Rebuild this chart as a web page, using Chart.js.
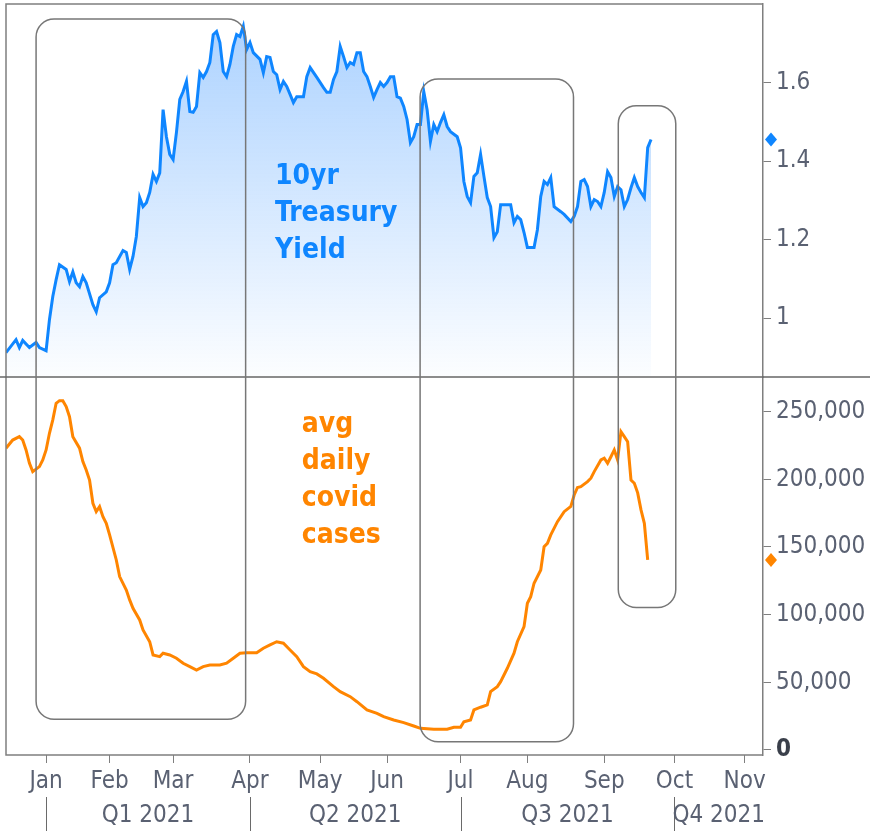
<!DOCTYPE html>
<html>
<head>
    <title>10yr Treasury Yield vs avg daily covid cases</title>
    <style>
        body {
            margin: 0;
            background: #ffffff;
        }
        canvas {
            display: block;
        }
    </style>
</head>
<body>
    <canvas id="chart" width="870" height="831"></canvas>
    <script src="https://cdn.jsdelivr.net/npm/chart.js"></script>
    <script>
        // x values are trading days counted from Jan 4, 2021 (= 0)
        const yieldDays = [-12, -9, -8, -7, -5, -3, -2, 0, 1, 2, 3, 4, 6, 7, 8, 9, 10, 11, 12, 14, 15, 16, 18, 19, 20, 21, 23, 24, 25, 26,
            27, 28, 29, 30, 31, 32, 33, 34, 35, 36, 37, 38, 39, 40, 41, 42, 43, 44, 45, 46, 47, 48, 49, 50, 51, 52, 53, 54, 55, 56,
            57, 58, 59, 60, 61, 62, 64, 65, 66, 67, 68, 69, 70, 71, 72, 73, 74, 75, 77, 78, 79, 81, 83, 84, 85, 86, 87, 88, 89, 90,
            91, 92, 93, 94, 95, 96, 97, 98, 99, 100, 101, 102, 103, 104, 105, 106, 107, 108, 109, 110, 111, 112, 113, 114, 115, 116, 117, 118, 119, 120,
            121, 123, 124, 125, 126, 127, 128, 129, 130, 131, 132, 133, 134, 135, 136, 138, 139, 140, 141, 142, 143, 144, 146, 147, 148, 149, 150, 151, 152, 154,
            155, 157, 158, 159, 160, 161, 162, 163, 164, 165, 166, 167, 168, 169, 170, 171, 172, 173, 174, 175, 176, 177, 178, 179, 180, 181];
        const yieldVals = [0.912, 0.945, 0.925, 0.943, 0.925, 0.938, 0.925, 0.917, 0.996, 1.055, 1.098, 1.136, 1.124, 1.093, 1.118, 1.09, 1.08, 1.106, 1.09, 1.034, 1.016, 1.052, 1.067, 1.09, 1.136, 1.141, 1.172, 1.167, 1.124, 1.157,
            1.208, 1.307, 1.284, 1.294, 1.32, 1.366, 1.348, 1.37, 1.531, 1.462, 1.417, 1.404, 1.473, 1.557, 1.577, 1.603, 1.526, 1.524, 1.539, 1.625, 1.613, 1.628, 1.651, 1.722, 1.73, 1.702, 1.628, 1.615, 1.646, 1.692,
            1.722, 1.717, 1.743, 1.684, 1.702, 1.676, 1.659, 1.625, 1.666, 1.664, 1.628, 1.62, 1.582, 1.603, 1.59, 1.57, 1.549, 1.564, 1.564, 1.615, 1.638, 1.613, 1.587, 1.575, 1.575, 1.608, 1.628, 1.692, 1.666, 1.638,
            1.651, 1.646, 1.676, 1.676, 1.628, 1.615, 1.59, 1.562, 1.582, 1.6, 1.59, 1.6, 1.615, 1.615, 1.564, 1.56, 1.539, 1.506, 1.447, 1.462, 1.493, 1.493, 1.577, 1.531, 1.45, 1.493, 1.475, 1.498, 1.518, 1.488,
            1.475, 1.462, 1.434, 1.348, 1.31, 1.294, 1.361, 1.37, 1.417, 1.361, 1.307, 1.284, 1.205, 1.22, 1.289, 1.289, 1.289, 1.243, 1.259, 1.251, 1.218, 1.18, 1.18, 1.225, 1.31, 1.348, 1.34, 1.358, 1.284, 1.271,
            1.264, 1.246, 1.259, 1.284, 1.348, 1.353, 1.335, 1.284, 1.302, 1.297, 1.284, 1.32, 1.373, 1.358, 1.31, 1.335, 1.327, 1.284, 1.302, 1.332, 1.358, 1.335, 1.32, 1.307, 1.434, 1.455];

        const caseDays = [-12, -10, -8, -7, -6, -5, -4, -2, -1, 0, 1, 2, 3, 4, 5, 6, 7, 8, 10, 11, 12, 13, 14, 15, 16, 17, 18, 19, 21, 22,
            24, 25, 26, 28, 29, 31, 32, 34, 35, 37, 39, 41, 43, 45, 47, 49, 52, 54, 56, 58, 60, 63, 65, 67, 69, 71, 73, 75, 77, 79,
            81, 83, 86, 88, 91, 93, 96, 99, 101, 104, 107, 110, 112, 116, 120, 122, 124, 125, 127, 128, 130, 132, 133, 135, 136, 138, 140, 141, 143, 144,
            145, 146, 148, 149, 150, 151, 153, 155, 157, 158, 159, 160, 162, 163, 164, 166, 167, 168, 169, 170, 171, 172, 173, 174, 175, 176, 177, 178, 179, 180];
        const caseVals = [223000, 229000, 231500, 229000, 221700, 212000, 205700, 209400, 214300, 221700, 234000, 243900, 256200, 258100, 258100, 253700, 246300, 231500, 223000, 213100, 206900, 199500, 182300, 176100, 179800, 172400, 167500, 158900, 140400, 128100,
            118200, 110900, 104700, 96100, 88700, 80000, 70200, 69000, 71500, 70200, 67800, 64100, 61600, 59100, 61600, 62800, 62800, 64100, 67800, 71500, 71900, 71900, 75200, 77600, 80000, 78900, 73900, 69000, 61600, 57900,
            56200, 53000, 46800, 43100, 39400, 35700, 29600, 27100, 24600, 22200, 20200, 17700, 16000, 15300, 15300, 16800, 16800, 20900, 22200, 29600, 31600, 33300, 43100, 46800, 50500, 60400, 71500, 80000, 91100, 108400,
            113300, 123200, 133000, 150200, 152700, 158900, 168700, 176100, 180000, 188400, 194000, 194600, 198300, 200800, 205700, 214300, 215600, 211900, 216700, 221700, 214300, 235200, 231500, 227800, 199500, 197100, 190000, 177400, 167500, 140400];

        const monthDays = [0, 19, 38, 61, 82, 102, 124, 144, 167, 188, 209];
        const monthLabels = ['Jan', 'Feb', 'Mar', 'Apr', 'May', 'Jun', 'Jul', 'Aug', 'Sep', 'Oct', 'Nov'];
        const quarterStarts = [0, 61, 124, 188];
        const quarterLabels = ['Q1 2021', 'Q2 2021', 'Q3 2021', 'Q4 2021'];
        const yieldTicks = [1, 1.2, 1.4, 1.6];
        const caseTicks = [0, 50000, 100000, 150000, 200000, 250000];

        // highlight boxes: day range, top on the yield axis, bottom on the cases axis
        const boxFrom = [-3, 111.9, 171.2];
        const boxTo = [59.7, 157.8, 188.4];
        const boxTopYield = [1.762, 1.609, 1.541];
        const boxBottomCases = [22700, 6100, 105200];

        const yieldNote = ['10yr', 'Treasury', 'Yield'];
        const casesNote = ['avg', 'daily', 'covid', 'cases'];

        const BLUE = '#0f86ff';
        const ORANGE = '#ff8500';
        const FRAME = '#7f7f7f';
        const TEXT = '#5a6172';
        const LABEL_FONT = '"DejaVu Sans Condensed", "DejaVu Sans", sans-serif';
        const AXIS_FONT = '"Liberation Sans Narrow", "DejaVu Sans Condensed", sans-serif';

        const overlayPlugin = {
            id: 'overlay',
            afterDatasetsDraw(chart) {
                const ctx = chart.ctx;
                const xs = chart.scales.x;
                const ys1 = chart.scales.yYield;
                const ys2 = chart.scales.yCases;
                const area = chart.chartArea;
                ctx.save();

                // frame of the plot area
                ctx.strokeStyle = FRAME;
                ctx.lineWidth = 1.5;
                ctx.beginPath();
                ctx.moveTo(area.right, area.top);
                ctx.lineTo(area.left, area.top);
                ctx.lineTo(area.left, area.bottom);
                ctx.lineTo(area.right, area.bottom);
                ctx.stroke();

                // divider between the two panels
                ctx.strokeStyle = '#666666';
                ctx.beginPath();
                ctx.moveTo(0, ys1.bottom);
                ctx.lineTo(chart.width, ys1.bottom);
                ctx.stroke();

                // rounded boxes
                ctx.strokeStyle = '#777777';
                ctx.lineWidth = 1.5;
                for (let i = 0; i < boxFrom.length; i++) {
                    const x0 = xs.getPixelForValue(boxFrom[i]);
                    const x1 = xs.getPixelForValue(boxTo[i]);
                    const y0 = ys1.getPixelForValue(boxTopYield[i]);
                    const y1 = ys2.getPixelForValue(boxBottomCases[i]);
                    const r = Math.min(18, (x1 - x0) / 2.5);
                    ctx.beginPath();
                    ctx.roundRect(x0, y0, x1 - x0, y1 - y0, r);
                    ctx.stroke();
                }

                // series notes
                ctx.font = 'bold 28px ' + LABEL_FONT;
                ctx.textAlign = 'left';
                ctx.textBaseline = 'alphabetic';
                ctx.fillStyle = BLUE;
                let nx = xs.getPixelForValue(68.5);
                let ny = ys1.getPixelForValue(1.342);
                yieldNote.forEach((t, i) => ctx.fillText(t, nx, ny + i * 37));
                ctx.fillStyle = ORANGE;
                nx = xs.getPixelForValue(76.5);
                ny = ys2.getPixelForValue(235000);
                casesNote.forEach((t, i) => ctx.fillText(t, nx, ny + i * 37));

                // last value markers
                const drawDiamond = (y, color) => {
                    const x = area.right + 8;
                    ctx.fillStyle = color;
                    ctx.beginPath();
                    ctx.moveTo(x, y - 7);
                    ctx.lineTo(x + 6, y);
                    ctx.lineTo(x, y + 7);
                    ctx.lineTo(x - 6, y);
                    ctx.closePath();
                    ctx.fill();
                };
                drawDiamond(ys1.getPixelForValue(yieldVals[yieldVals.length - 1]), BLUE);
                drawDiamond(ys2.getPixelForValue(caseVals[caseVals.length - 1]), ORANGE);

                // quarter row under the months
                ctx.strokeStyle = '#6a6a6a';
                ctx.lineWidth = 1;
                ctx.fillStyle = TEXT;
                ctx.font = '24px ' + AXIS_FONT;
                ctx.textAlign = 'center';
                ctx.textBaseline = 'middle';
                for (let i = 0; i < quarterStarts.length; i++) {
                    const qx = Math.round(xs.getPixelForValue(quarterStarts[i])) + 0.5;
                    ctx.beginPath();
                    ctx.moveTo(qx, area.bottom + 42);
                    ctx.lineTo(qx, chart.height);
                    ctx.stroke();
                    const end = i + 1 < quarterStarts.length ? quarterStarts[i + 1] : xs.max;
                    const cx = xs.getPixelForValue((quarterStarts[i] + end) / 2);
                    ctx.fillText(quarterLabels[i], cx, area.bottom + 61);
                }
                ctx.restore();
            }
        };

        const yieldGradient = (context) => {
            const chart = context.chart;
            const s = chart.scales.yYield;
            if (!chart.chartArea || !s) return 'rgba(15, 134, 255, 0.2)';
            const g = chart.ctx.createLinearGradient(0, s.top, 0, s.bottom);
            g.addColorStop(0, 'rgba(15, 125, 255, 0.36)');
            g.addColorStop(1, 'rgba(15, 125, 255, 0.01)');
            return g;
        };

        // keep tick labels from pushing the plot area inwards
        const noPadding = (scale) => {
            scale.paddingTop = 0;
            scale.paddingBottom = 0;
        };

        new Chart(document.getElementById('chart'), {
            type: 'line',
            data: {
                datasets: [{
                    label: '10yr Treasury Yield',
                    data: yieldDays.map((d, i) => ({ x: d, y: yieldVals[i] })),
                    yAxisID: 'yYield',
                    borderColor: BLUE,
                    borderWidth: 3,
                    backgroundColor: yieldGradient,
                    fill: 'start',
                    pointRadius: 0,
                    tension: 0
                }, {
                    label: 'avg daily covid cases',
                    data: caseDays.map((d, i) => ({ x: d, y: caseVals[i] })),
                    yAxisID: 'yCases',
                    borderColor: ORANGE,
                    borderWidth: 3,
                    fill: false,
                    pointRadius: 0,
                    tension: 0
                }]
            },
            options: {
                responsive: false,
                animation: false,
                layout: { padding: { left: 6, top: 4, right: 0, bottom: 0 } },
                plugins: {
                    legend: { display: false },
                    tooltip: { enabled: false }
                },
                scales: {
                    x: {
                        type: 'linear',
                        position: 'bottom',
                        min: -12,
                        max: 214.5,
                        border: { display: false },
                        grid: { drawOnChartArea: false, tickLength: 8, color: FRAME },
                        afterBuildTicks: (scale) => { scale.ticks = monthDays.map(v => ({ value: v })); },
                        afterFit: (scale) => {
                            scale.height = 76;
                            scale.paddingLeft = 0;
                            scale.paddingRight = 0;
                        },
                        ticks: {
                            autoSkip: false,
                            maxRotation: 0,
                            padding: 4,
                            color: TEXT,
                            font: { family: AXIS_FONT, size: 24 },
                            callback: (v) => monthLabels[monthDays.indexOf(v)]
                        }
                    },
                    yYield: {
                        type: 'linear',
                        position: 'right',
                        stack: 'panels',
                        stackWeight: 373,
                        min: 0.85,
                        max: 1.8,
                        border: { color: FRAME, width: 1.5 },
                        grid: { drawOnChartArea: false, tickLength: 8, color: FRAME },
                        afterBuildTicks: (scale) => { scale.ticks = yieldTicks.map(v => ({ value: v })); },
                        afterFit: (scale) => { scale.width = 107; noPadding(scale); },
                        ticks: {
                            padding: 5,
                            color: TEXT,
                            font: { family: LABEL_FONT, size: 24 },
                            callback: (v) => String(v)
                        }
                    },
                    yCases: {
                        type: 'linear',
                        position: 'right',
                        stack: 'panels',
                        stackWeight: 378,
                        min: -3700,
                        max: 275600,
                        border: { color: FRAME, width: 1.5 },
                        grid: { drawOnChartArea: false, tickLength: 8, color: FRAME },
                        afterBuildTicks: (scale) => { scale.ticks = caseTicks.map(v => ({ value: v })); },
                        afterFit: (scale) => { scale.width = 107; noPadding(scale); },
                        ticks: {
                            padding: 5,
                            color: (c) => (c.tick && c.tick.value === 0 ? '#3a3f4a' : TEXT),
                            font: (c) => ({ family: LABEL_FONT, size: 24, weight: c.tick && c.tick.value === 0 ? 'bold' : 'normal' }),
                            callback: (v) => v.toLocaleString('en-US')
                        }
                    }
                }
            },
            plugins: [overlayPlugin]
        });
    </script>
</body>
</html>
